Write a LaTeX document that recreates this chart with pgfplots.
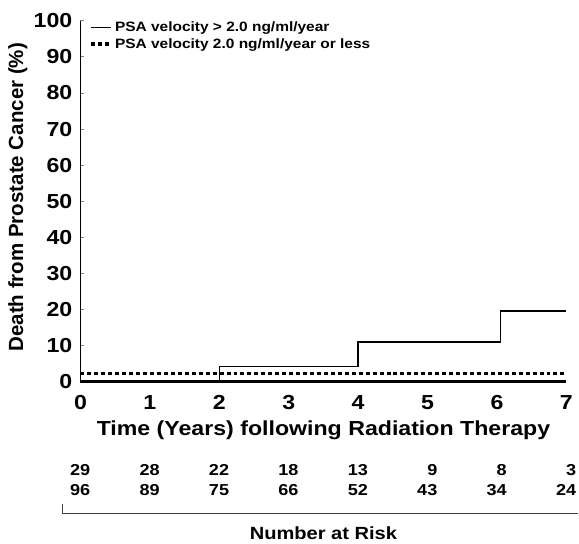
\documentclass[border=0pt]{standalone}
\usepackage{fontspec}
\setmainfont{Liberation Sans}[FakeStretch=1.14]
\newfontfamily\ylabfont{Liberation Sans}
\usepackage{pgfplots}
\pgfplotsset{compat=1.18}
\begin{document}
\begin{tikzpicture}
\begin{axis}[
    scale only axis, width=489bp, height=363bp,
    xmin=0, xmax=7, ymin=0, ymax=100, clip=false,
    axis x line*=bottom, axis y line*=left,
    x axis line style={line width=2.6bp},
    y axis line style={line width=1.4bp},
    xtick={0,...,7}, ytick={0,10,...,100},
    x tick style={draw=none}, y tick style={line width=1bp},
    tick align=inside, major tick length=4bp,
    /pgf/number format/assume math mode=true,
    tick label style={font=\fontsize{20.5}{20.5}\selectfont\bfseries, inner sep=0pt},
    xticklabel style={yshift=-14bp},
    yticklabel style={xshift=-8bp},
    xlabel={Time (Years) following Radiation Therapy},
    ylabel={Death from Prostate Cancer (\%)},
    every axis x label/.style={at={(axis description cs:0.5,0)}, anchor=center, yshift=-49bp,
        font=\fontsize{20.5}{20.5}\selectfont\bfseries},
    every axis y label/.style={at={([xshift=-63bp, yshift=4bp]axis description cs:0,0.5)}, anchor=center, rotate=90,
        font=\ylabfont\fontsize{20.7}{20.7}\selectfont\bfseries},
    legend style={at={(0,1)}, anchor=north west, draw=none, fill=none, xshift=6bp, yshift=3bp,
        font=\fontsize{13.7}{13.7}\selectfont\bfseries, row sep=1bp},
    legend cell align=left,
    legend image code/.code={\draw[#1] (0bp,0bp) -- (20bp,0bp);},
]
\addplot[const plot, black, line width=1.6bp] coordinates {(0,0) (2,4.2) (4,11) (6.05,19.6) (7,19.6)};
\addlegendentry{PSA velocity > 2.0 ng/ml/year}
\addplot[black, line width=3.6bp, dash pattern=on 4bp off 3bp] coordinates {(0,2.2) (7,2.2)};
\addlegendentry{PSA velocity 2.0 ng/ml/year or less}
\end{axis}
\begin{scope}[font=\fontsize{16}{16}\selectfont\bfseries]
\foreach \n [count=\i from 0] in {29,28,22,18,13,9,8,3}
  \node[anchor=base east, inner sep=0pt] at ([xshift={\i*69.857bp+10bp}, yshift=-95bp]current axis.south west) {\n};
\foreach \n [count=\i from 0] in {96,89,75,66,52,43,34,24}
  \node[anchor=base east, inner sep=0pt] at ([xshift={\i*69.857bp+10bp}, yshift=-115bp]current axis.south west) {\n};
\draw[line width=1.4bp, black!75] ([xshift=-18bp, yshift=-123bp]current axis.south west)
  -- ([xshift=-18bp, yshift=-133bp]current axis.south west)
  -- ([xshift=12bp, yshift=-133bp]current axis.south east);
\node[font=\fontsize{17.8}{17.8}\selectfont\bfseries] at ([yshift=-153bp]current axis.south) {Number at Risk};
\end{scope}
\useasboundingbox ([xshift=-81bp, yshift=-160bp]current axis.south west) rectangle ([xshift=9bp, yshift=21bp]current axis.north east);
\end{tikzpicture}
\end{document}
